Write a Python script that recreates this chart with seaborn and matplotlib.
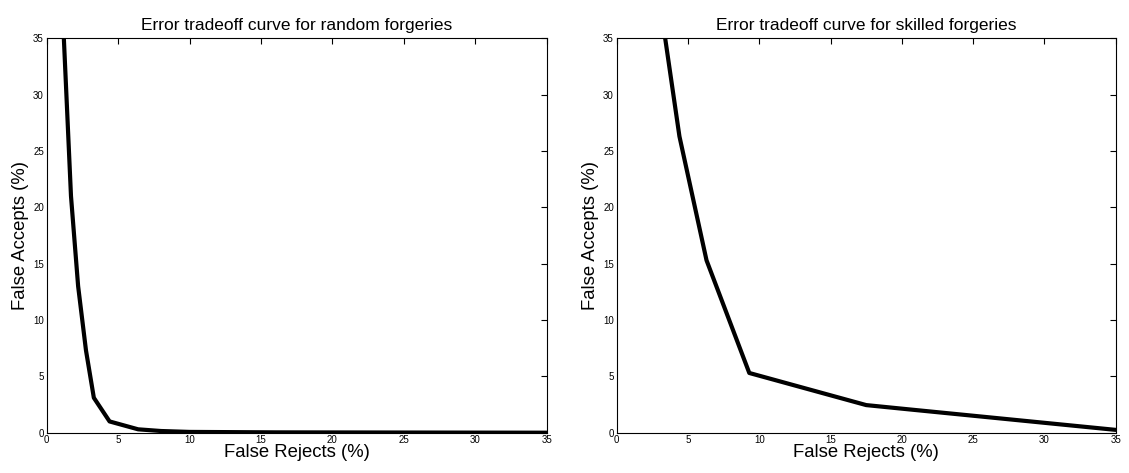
import matplotlib
matplotlib.use("Agg")
import matplotlib.pyplot as plt
import seaborn as sns
import pandas as pd

# Data
random_fr = [1.2, 1.7, 2.2, 2.75, 3.3, 4.4, 6.4, 8.0, 10.0, 16.0, 35.0]
random_fa = [35.0, 21.0, 13.0, 7.3, 3.1, 1.0, 0.3, 0.15, 0.07, 0.03, 0.0]

skilled_fr = [3.4, 4.4, 6.3, 9.3, 17.5, 20.5, 35.0]
skilled_fa = [35.0, 26.3, 15.3, 5.3, 2.45, 2.07, 0.25]

titles = ["Error tradeoff curve for random forgeries",
          "Error tradeoff curve for skilled forgeries"]
xlabel = "False Rejects (%)"
ylabel = "False Accepts (%)"
ticks = [0, 5, 10, 15, 20, 25, 30, 35]

sns.set_theme(style="white")
plt.rcParams['font.family'] = ['Liberation Sans', 'DejaVu Sans']
plt.rcParams['text.color'] = 'black'
plt.rcParams['axes.labelcolor'] = 'black'
plt.rcParams['xtick.direction'] = 'in'
plt.rcParams['ytick.direction'] = 'in'

fig = plt.figure(figsize=(11.29, 4.73), dpi=100)
W, H = 1129, 473
ax1 = fig.add_axes([46.7 / W, (H - 432.7) / H, 500 / W, 394.4 / H])
ax2 = fig.add_axes([616.7 / W, (H - 432.7) / H, 499 / W, 394.4 / H])

datasets = [(random_fr, random_fa), (skilled_fr, skilled_fa)]
for ax, (fr, fa), title in zip([ax1, ax2], datasets, titles):
    df = pd.DataFrame({"fr": fr, "fa": fa})
    sns.lineplot(data=df, x="fr", y="fa", ax=ax, color="black", linewidth=3,
                 sort=False, estimator=None)
    ax.set_xlim(0, 35)
    ax.set_ylim(0, 35)
    ax.set_xticks(ticks)
    ax.set_yticks(ticks)
    ax.tick_params(axis='both', which='both', labelsize=7, length=4, width=0.8,
                   top=True, right=True, direction='in', pad=2, colors='black')
    for s in ax.spines.values():
        s.set_color('black')
        s.set_linewidth(0.8)
    ax.set_title(title, fontsize=12.5, pad=6, color='black')
    ax.set_xlabel(xlabel, fontsize=13.3, labelpad=-1, color='black')
    ax.set_ylabel(ylabel, fontsize=13.3, labelpad=3, color='black')

fig.savefig("out.png", dpi=100)
